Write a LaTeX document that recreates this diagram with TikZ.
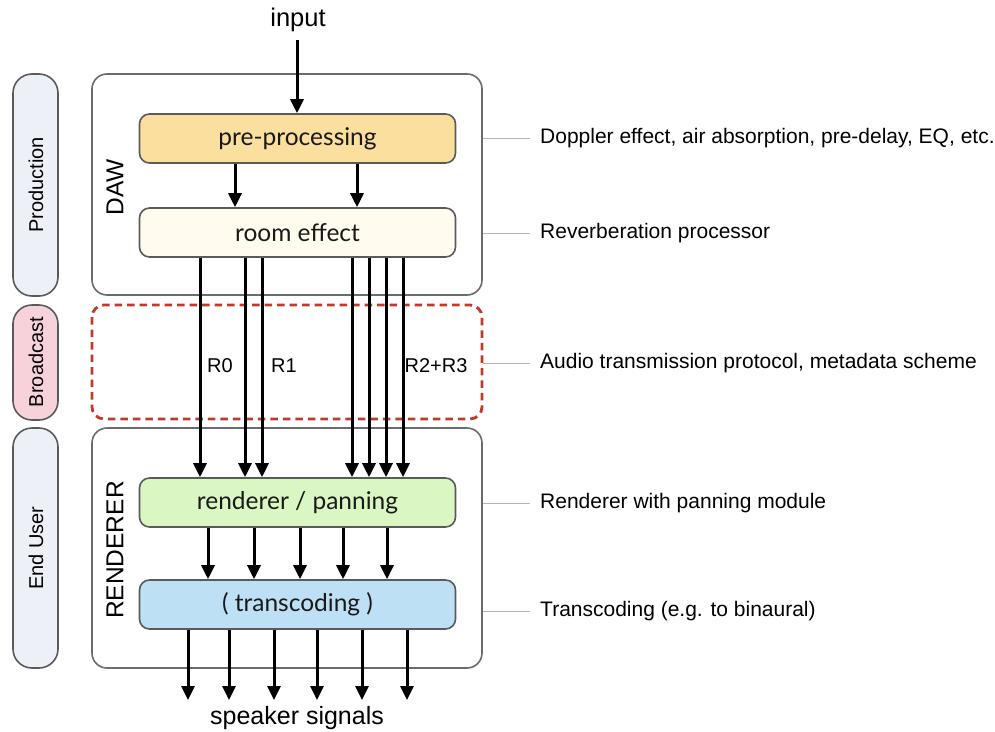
\documentclass[tikz,border=0pt]{standalone}
\usepackage{fontspec}
\setmainfont{Liberation Sans}
\newfontfamily\gill{Lato}
\usetikzlibrary{arrows.meta,calc}
\definecolor{preY}{HTML}{FADF9E}
\definecolor{roomY}{HTML}{FFFBEE}
\definecolor{rendG}{HTML}{DAF6C2}
\definecolor{transB}{HTML}{BEE0F5}
\definecolor{pillG}{HTML}{EEF0F7}
\definecolor{pillP}{HTML}{F8D2DB}
\definecolor{edge}{HTML}{5A5A5A}
\definecolor{dashR}{HTML}{C0392B}
\definecolor{annot}{HTML}{B4B4B4}
\tikzset{
  proc/.style={draw=edge, line width=1.6pt, rounded corners=10pt, minimum width=316pt, minimum height=49pt, inner sep=0pt, font=\gill\fontsize{24.5}{28}\selectfont, text=black!90},
  frame/.style={draw=edge!90, line width=1.6pt, rounded corners=15pt},
  pill/.style={draw=edge, line width=1.6pt, rounded corners=19pt},
  arr/.style={line width=3pt, -{Triangle[width=13pt,length=14pt]}},
  ann/.style={draw=annot, line width=1pt},
  anntext/.style={anchor=west, font=\fontsize{21}{24}\selectfont, inner sep=0pt},
  vlab/.style={rotate=90, font=\fontsize{20}{24}\selectfont, inner sep=0pt},
  biglab/.style={rotate=90, font=\fontsize{24.5}{28}\selectfont, inner sep=0pt},
  rlab/.style={font=\fontsize{20}{24}\selectfont, inner sep=0pt}
}
\begin{document}
\begin{tikzpicture}[x=1pt,y=-1pt]
\useasboundingbox (0,0) rectangle (995,731);
% side pills
\draw[pill, fill=pillG] (13,74) rectangle (58,296);
\node[vlab] (lprod) at (36,185) {Production};
\draw[pill, fill=pillP] (13,305) rectangle (58,420);
\node[vlab] (lbroad) at (36,362) {Broadcast};
\draw[pill, fill=pillG] (13,428) rectangle (58,668);
\node[vlab] (luser) at (36,548) {End User};
% frames
\draw[frame] (92,74) rectangle (482,295);
\node[biglab] (daw) at (115,187) {DAW};
\draw[dashR, line width=2.8pt, dash pattern=on 7.5pt off 5pt, rounded corners=12pt] (92,305) rectangle (482,419);
\draw[frame] (92,428) rectangle (482,668);
\node[biglab] (rendlab) at (115,550) {RENDERER};
% processing boxes
\node[proc, fill=preY] (pre) at (297.5,138.5) {pre-processing};
\node[proc, fill=roomY] (room) at (297.5,232.5) {room effect};
\node[proc, fill=rendG] (rend) at (297.5,502.5) {renderer / panning};
\node[proc, fill=transB] (trans) at (297.5,604.5) {( transcoding )};
% input
\node[font=\fontsize{25.5}{28}\selectfont, inner sep=0pt] (input) at (298,20) {input};
\coordinate (inTop) at (297,40);
\draw[arr] (inTop) -- (pre.north -| inTop);
% pre -> room
\foreach \x in {235,357} \draw[arr] (pre.south -| \x,0) -- (room.north -| \x,0);
% room -> renderer
\foreach \x in {200,245,262,352,369,386,403} \draw[arr] (room.south -| \x,0) -- (rend.north -| \x,0);
\node[rlab] (r0) at (220,366) {R0};
\node[rlab] (r1) at (284,366) {R1};
\node[rlab, fill=white, inner xsep=0pt] (r23) at (436,366) {R2+R3};
% renderer -> transcoding
\foreach \x in {208,254,300,343,387} \draw[arr] (rend.south -| \x,0) -- (trans.north -| \x,0);
% outputs
\coordinate (outEnd) at (0,700);
\foreach \x in {188,229,274,317,362,407} \draw[arr] (trans.south -| \x,0) -- (outEnd -| \x,0);
\node[font=\fontsize{25}{28}\selectfont, inner sep=0pt] (spk) at (297,718) {speaker signals};
% annotations
\node[anntext] (a1) at (540,138) {Doppler effect, air absorption, pre-delay, EQ, etc.};
\node[anntext] (a2) at (540,233) {Reverberation processor};
\node[anntext] (a3) at (540,363) {Audio transmission protocol, metadata scheme};
\node[anntext] (a4) at (540,503) {Renderer with panning module};
\node[anntext] (a5) at (540,611) {Transcoding (e.g. to binaural)};
\foreach \n in {a1,a2,a3,a4,a5} \draw[ann] (\n.west -| 483,0) -- ([xshift=-10pt]\n.west);
\end{tikzpicture}
\end{document}
